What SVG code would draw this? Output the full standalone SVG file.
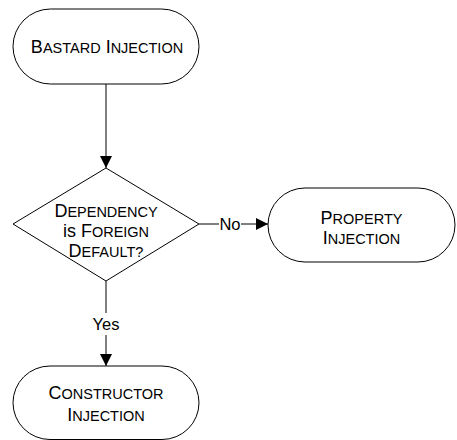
<svg xmlns="http://www.w3.org/2000/svg" width="457" height="440" viewBox="0 0 457 440">
<style>
.shape{fill:#fff;stroke:#000;stroke-width:1}
.conn{stroke:#000;stroke-width:1;fill:none}
text{font-family:"Liberation Sans",Arial,sans-serif;fill:#000;text-anchor:middle}
.b{font-size:18px}
.s{font-size:14.5px}
.lbl{font-size:16.5px}
</style>
<defs>
<marker id="arr" markerUnits="userSpaceOnUse" markerWidth="12" markerHeight="12" refX="12" refY="6" orient="auto" viewBox="0 0 12 12">
<path d="M0,0 L12,6 L0,12 Z" fill="#000"/>
</marker>
</defs>
<g id="connectors">
<line class="conn" x1="106" y1="84" x2="106" y2="168" marker-end="url(#arr)"/>
<line class="conn" x1="199" y1="224" x2="219" y2="224"/>
<text class="lbl" x="230" y="230">No</text>
<line class="conn" x1="241" y1="224" x2="268" y2="224" marker-end="url(#arr)"/>
<line class="conn" x1="106" y1="281" x2="106" y2="313"/>
<text class="lbl" x="106" y="330">Yes</text>
<line class="conn" x1="106" y1="335" x2="106" y2="366" marker-end="url(#arr)"/>
</g>
<g id="bastard">
<rect class="shape" x="13" y="9" width="186" height="75" rx="37.5" ry="37.5"/>
<text x="107" y="53"><tspan class="b">B</tspan><tspan class="s">ASTARD</tspan><tspan class="b"> I</tspan><tspan class="s">NJECTION</tspan></text>
</g>
<g id="decision">
<polygon class="shape" points="106,168 199,224 106,281 13,224"/>
<text x="106" y="216.5"><tspan class="b">D</tspan><tspan class="s">EPENDENCY</tspan></text>
<text x="106" y="236.5"><tspan class="b">is F</tspan><tspan class="s">OREIGN</tspan></text>
<text x="106" y="256.5"><tspan class="b">D</tspan><tspan class="s">EFAULT?</tspan></text>
</g>
<g id="property">
<rect class="shape" x="268" y="188" width="187" height="74" rx="37" ry="37"/>
<text x="361.5" y="223.5"><tspan class="b">P</tspan><tspan class="s">ROPERTY</tspan></text>
<text x="361.5" y="243.5"><tspan class="b">I</tspan><tspan class="s">NJECTION</tspan></text>
</g>
<g id="constructor">
<rect class="shape" x="13" y="366" width="186" height="73.5" rx="37" ry="37"/>
<text x="106" y="399"><tspan class="b">C</tspan><tspan class="s">ONSTRUCTOR</tspan></text>
<text x="106" y="421"><tspan class="b">I</tspan><tspan class="s">NJECTION</tspan></text>
</g>
</svg>
